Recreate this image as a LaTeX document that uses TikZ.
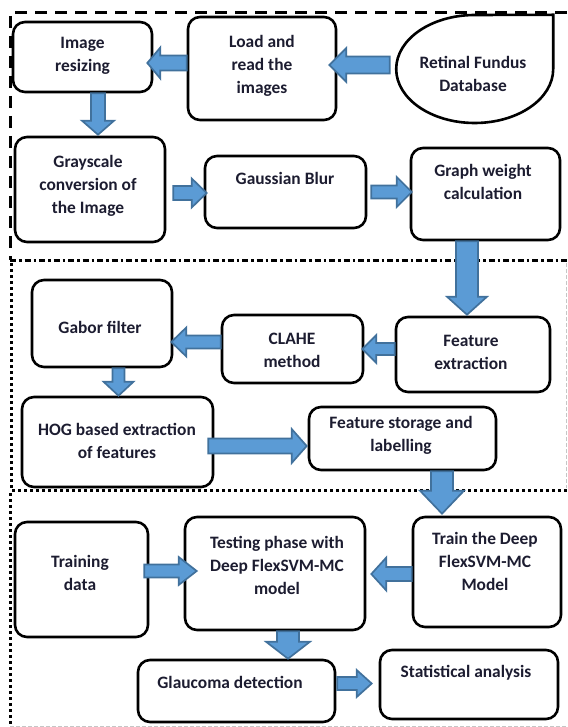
\documentclass[tikz,border=0pt]{standalone}
\usepackage{fontspec}
\setmainfont{Carlito}
\usetikzlibrary{calc}
\definecolor{afill}{HTML}{5B9BD5}
\definecolor{aline}{HTML}{41719C}
\definecolor{tcol}{HTML}{1C1C30}
\newcommand{\rarrow}[5]{%
 \draw[barrow] let \p1=#1, \p2=#2 in
 (\x1,\y1+#3pt) -- (\x2-#5pt,\y1+#3pt) -- (\x2-#5pt,\y1+#4pt) -- (\x2,\y1) -- (\x2-#5pt,\y1-#4pt) -- (\x2-#5pt,\y1-#3pt) -- (\x1,\y1-#3pt) -- cycle;}
\newcommand{\larrow}[5]{%
 \draw[barrow] let \p1=#1, \p2=#2 in
 (\x1,\y1+#3pt) -- (\x2+#5pt,\y1+#3pt) -- (\x2+#5pt,\y1+#4pt) -- (\x2,\y1) -- (\x2+#5pt,\y1-#4pt) -- (\x2+#5pt,\y1-#3pt) -- (\x1,\y1-#3pt) -- cycle;}
\newcommand{\darrow}[5]{%
 \draw[barrow] let \p1=#1, \p2=#2 in
 (\x1-#3pt,\y1) -- (\x1-#3pt,\y2+#5pt) -- (\x1-#4pt,\y2+#5pt) -- (\x1,\y2) -- (\x1+#4pt,\y2+#5pt) -- (\x1+#3pt,\y2+#5pt) -- (\x1+#3pt,\y1) -- cycle;}
\begin{document}
\begin{tikzpicture}[x=1pt,y=-1pt,
  box/.style={draw=black, line width=2.6pt, rounded corners=12pt, inner sep=0pt},
  txt/.style={font=\bfseries\fontsize{17.4}{23}\selectfont, text=tcol, align=center, inner sep=0pt},
  barrow/.style={fill=afill, draw=aline, line width=1.7pt, line join=miter},
  dashframe/.style={line width=3pt, dash pattern=on 12pt off 8pt},
  dashdotframe/.style={line width=3pt, dash pattern=on 6pt off 3pt on 2.5pt off 3pt},
  dotframe/.style={line width=3pt, dash pattern=on 2.5pt off 3.5pt},
  faint/.style={draw=gray!45, line width=0.8pt, dash pattern=on 4pt off 2pt}]
\useasboundingbox (0,0) rectangle (567,727);
% frames
\coordinate (f1a) at (567,13);
\coordinate (f1b) at (10,13);
\coordinate (f1c) at (10,260);
\coordinate (f1d) at (567,260);
\coordinate (f2a) at (11,263);
\coordinate (f2b) at (11,490);
\coordinate (f2c) at (567,490);
\coordinate (f3a) at (10,493);
\coordinate (f3b) at (10,727);
\coordinate (f3c) at (10,726);
\coordinate (f3d) at (567,726);
\coordinate (f2r1) at (566,263);
\coordinate (f2r2) at (566,488);
\draw[dashframe] (f1a) -- (f1b) -- (f1c);
\draw[dashdotframe] (f1c) -- (f1d);
\draw[dotframe] (f2a) -- (f2b) -- (f2c);
\draw[dotframe] (f3a) -- (f3b);
\draw[faint] (f3c) -- (f3d);
\draw[faint] (f2r1) -- (f2r2);
% boxes
\node[box, minimum width=139, minimum height=70] (resize) at (82.5,57) {};
\node[box, minimum width=148, minimum height=103] (load) at (262,68.5) {};
\node[minimum width=157, minimum height=108, inner sep=0pt] (retinal) at (474.5,69) {};
\draw[line width=2.6pt, line join=miter] (retinal.north east) -- (retinal.east)
   arc[start angle=0, end angle=-270, x radius=78.5pt, y radius=54pt] -- cycle;
\node[box, minimum width=150, minimum height=105] (gray) at (90,189.5) {};
\node[box, minimum width=161, minimum height=72] (gauss) at (285.5,192) {};
\node[box, minimum width=149, minimum height=92] (graph) at (485.5,194) {};
\node[box, minimum width=140, minimum height=87] (gabor) at (102,323.5) {};
\node[box, minimum width=141, minimum height=68] (clahe) at (292.5,349) {};
\node[box, minimum width=154, minimum height=75] (feature) at (473,354.5) {};
\node[box, minimum width=191, minimum height=90] (hog) at (117.5,442) {};
\node[box, minimum width=187, minimum height=63] (storage) at (402.5,438.5) {};
\node[box, minimum width=133, minimum height=115] (training) at (81.5,579.5) {};
\node[box, minimum width=180, minimum height=113] (testing) at (275,573.5) {};
\node[box, minimum width=148, minimum height=110] (trainm) at (487,572) {};
\node[box, minimum width=197, minimum height=62] (glaucoma) at (236.5,691) {};
\node[box, minimum width=178, minimum height=69] (stat) at (469,684.5) {};
% texts
\node[txt] (resize-t) at (82.5,56) {Image\\resizing};
\node[txt] (load-t) at (262,66) {Load and\\read the\\images};
\node[txt] (retinal-t) at (473,73.5) {Retinal Fundus\\Database};
\node[txt] (gray-t) at (88,186) {Grayscale\\conversion of\\the Image};
\node[txt] (gauss-t) at (285,178) {Gaussian Blur};
\node[txt] (graph-t) at (483,182) {Graph weight\\calculation};
\node[txt] (gabor-t) at (100,327) {Gabor filter};
\node[txt] (clahe-t) at (292,350) {CLAHE\\method};
\node[txt] (feature-t) at (471,352) {Feature\\extraction};
\node[txt] (hog-t) at (117,440.5) {HOG based extraction\\of features};
\node[txt] (storage-t) at (401,435) {Feature storage and\\labelling};
\node[txt] (training-t) at (80,573) {Training\\data};
\node[txt] (testing-t) at (277,565) {Testing phase with\\Deep FlexSVM-MC\\model};
\node[txt] (trainm-t) at (485,561.5) {Train the Deep\\FlexSVM-MC\\Model};
\node[txt] (glaucoma-t) at (230,682) {Glaucoma detection};
\node[txt] (stat-t) at (466,673) {Statistical analysis};
% block arrows
\larrow{([yshift=5.5pt]load.west)}{([xshift=-6pt]resize.east)}{7.5}{15.5}{13}
\larrow{([xshift=-6pt,yshift=4pt]retinal.west)}{([xshift=-8pt]load.east)}{8.5}{17}{17}
\darrow{([xshift=15.5pt]resize.south)}{([yshift=1pt]gray.north)}{7}{16}{14}
\rarrow{([xshift=7pt,yshift=-3.5pt]gray.east)}{([xshift=3pt]gauss.west)}{7}{14.5}{15}
\rarrow{([xshift=4pt]gauss.east)}{([xshift=2pt]graph.west)}{6.5}{15}{15}
\darrow{([xshift=-18.5pt]graph.south)}{([yshift=1pt]feature.north)}{11}{20}{18}
\larrow{([yshift=5.5pt]feature.west)}{([xshift=-2pt]clahe.east)}{6}{14}{14}
\larrow{([yshift=7pt]clahe.west)}{([xshift=-2pt]gabor.east)}{6.5}{14.5}{15}
\darrow{([xshift=16.5pt]gabor.south)}{(hog.north)}{6}{15}{14}
\rarrow{([xshift=-6pt,yshift=-4pt]hog.east)}{([xshift=-1pt]storage.west)}{7.5}{17}{15}
\darrow{([xshift=39.5pt]storage.south)}{([yshift=2pt]trainm.north)}{11}{22}{23}
\rarrow{([xshift=-5pt,yshift=8.5pt]training.east)}{([xshift=13pt]testing.west)}{6.5}{14}{18}
\larrow{([yshift=-2pt]trainm.west)}{([xshift=5pt]testing.east)}{7}{16.5}{15}
\darrow{([xshift=13pt]testing.south)}{(glaucoma.north)}{11}{22}{17}
\rarrow{([xshift=1pt,yshift=7.5pt]glaucoma.east)}{([xshift=-7pt]stat.west)}{6.5}{13.5}{15}
\end{tikzpicture}
\end{document}
